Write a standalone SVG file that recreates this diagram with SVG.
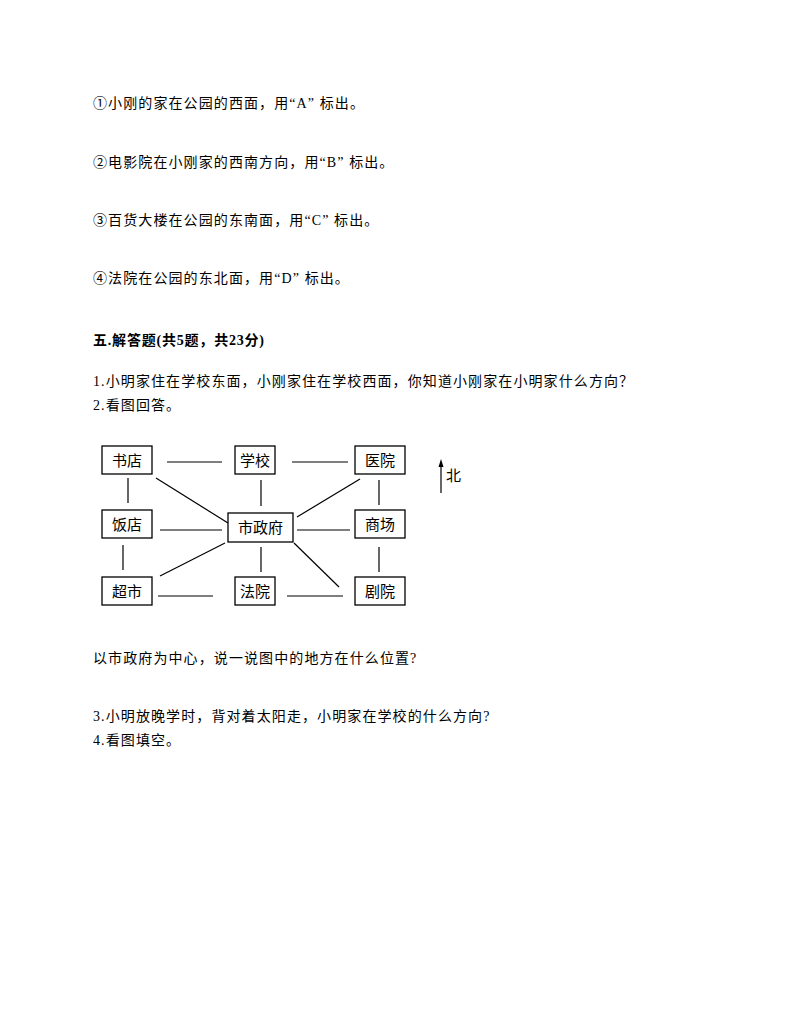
<svg xmlns="http://www.w3.org/2000/svg" width="794" height="1028" viewBox="0 0 794 1028">
<style>
text{font-family:"Liberation Serif","Noto Sans CJK SC",serif;font-size:14px;fill:#000;letter-spacing:1.1px}
.b{font-weight:bold;letter-spacing:0.8px}
.n rect{fill:#fff;stroke:#000;stroke-width:1.3}
.n text{font-family:"Noto Sans CJK SC",sans-serif;font-size:15px;text-anchor:middle;letter-spacing:0}
#conn line{stroke:#000;stroke-width:1.2}
</style>
<rect width="794" height="1028" fill="#fff"/>
<text x="93" y="108">①小刚的家在公园的西面，用“A” 标出。</text>
<text x="93" y="167">②电影院在小刚家的西南方向，用“B” 标出。</text>
<text x="93" y="225">③百货大楼在公园的东南面，用“C” 标出。</text>
<text x="93" y="283">④法院在公园的东北面，用“D” 标出。</text>
<text x="93" y="345" class="b">五.解答题(共5题，共23分)</text>
<text x="93" y="386">1.小明家住在学校东面，小刚家住在学校西面，你知道小刚家在小明家什么方向？</text>
<text x="93" y="410">2.看图回答。</text>
<text x="93" y="663">以市政府为中心，说一说图中的地方在什么位置?</text>
<text x="93" y="721">3.小明放晚学时，背对着太阳走，小明家在学校的什么方向?</text>
<text x="93" y="745">4.看图填空。</text>
<g id="conn">
<line x1="167" y1="462" x2="222" y2="462"/>
<line x1="292" y1="462" x2="348" y2="462"/>
<line x1="128" y1="478" x2="128" y2="503"/>
<line x1="261" y1="480" x2="261" y2="506"/>
<line x1="379" y1="480" x2="379" y2="505"/>
<line x1="156" y1="478" x2="228" y2="523"/>
<line x1="360" y1="479" x2="297" y2="517"/>
<line x1="160" y1="530" x2="222" y2="530"/>
<line x1="297" y1="530" x2="350" y2="530"/>
<line x1="123" y1="545" x2="123" y2="570"/>
<line x1="261" y1="547" x2="261" y2="572"/>
<line x1="379" y1="547" x2="379" y2="572"/>
<line x1="225" y1="543" x2="160" y2="576"/>
<line x1="294" y1="543" x2="339" y2="587"/>
<line x1="158" y1="596" x2="213" y2="596"/>
<line x1="287" y1="596" x2="343" y2="596"/>
<line x1="441" y1="462" x2="441" y2="493"/>
<path d="M441 459 L438.5 467 L443.5 467 Z" fill="#000"/>
</g>
<text x="446" y="481" style="font-family:'Noto Sans CJK SC',sans-serif;font-size:15px;letter-spacing:0">北</text>
<g id="n1" class="n"><rect x="102" y="446" width="50" height="28"/><text x="127" y="466">书店</text></g>
<g id="n2" class="n"><rect x="235" y="446" width="40" height="28"/><text x="255" y="466">学校</text></g>
<g id="n3" class="n"><rect x="355" y="446" width="50" height="28"/><text x="380" y="466">医院</text></g>
<g id="n4" class="n"><rect x="102" y="510" width="50" height="28"/><text x="127" y="530">饭店</text></g>
<g id="n5" class="n"><rect x="228" y="513" width="65" height="29"/><text x="260.5" y="533">市政府</text></g>
<g id="n6" class="n"><rect x="355" y="510" width="50" height="28"/><text x="380" y="530">商场</text></g>
<g id="n7" class="n"><rect x="102" y="577" width="50" height="28"/><text x="127" y="597">超市</text></g>
<g id="n8" class="n"><rect x="235" y="577" width="40" height="28"/><text x="255" y="597">法院</text></g>
<g id="n9" class="n"><rect x="355" y="577" width="50" height="28"/><text x="380" y="597">剧院</text></g>
</svg>
